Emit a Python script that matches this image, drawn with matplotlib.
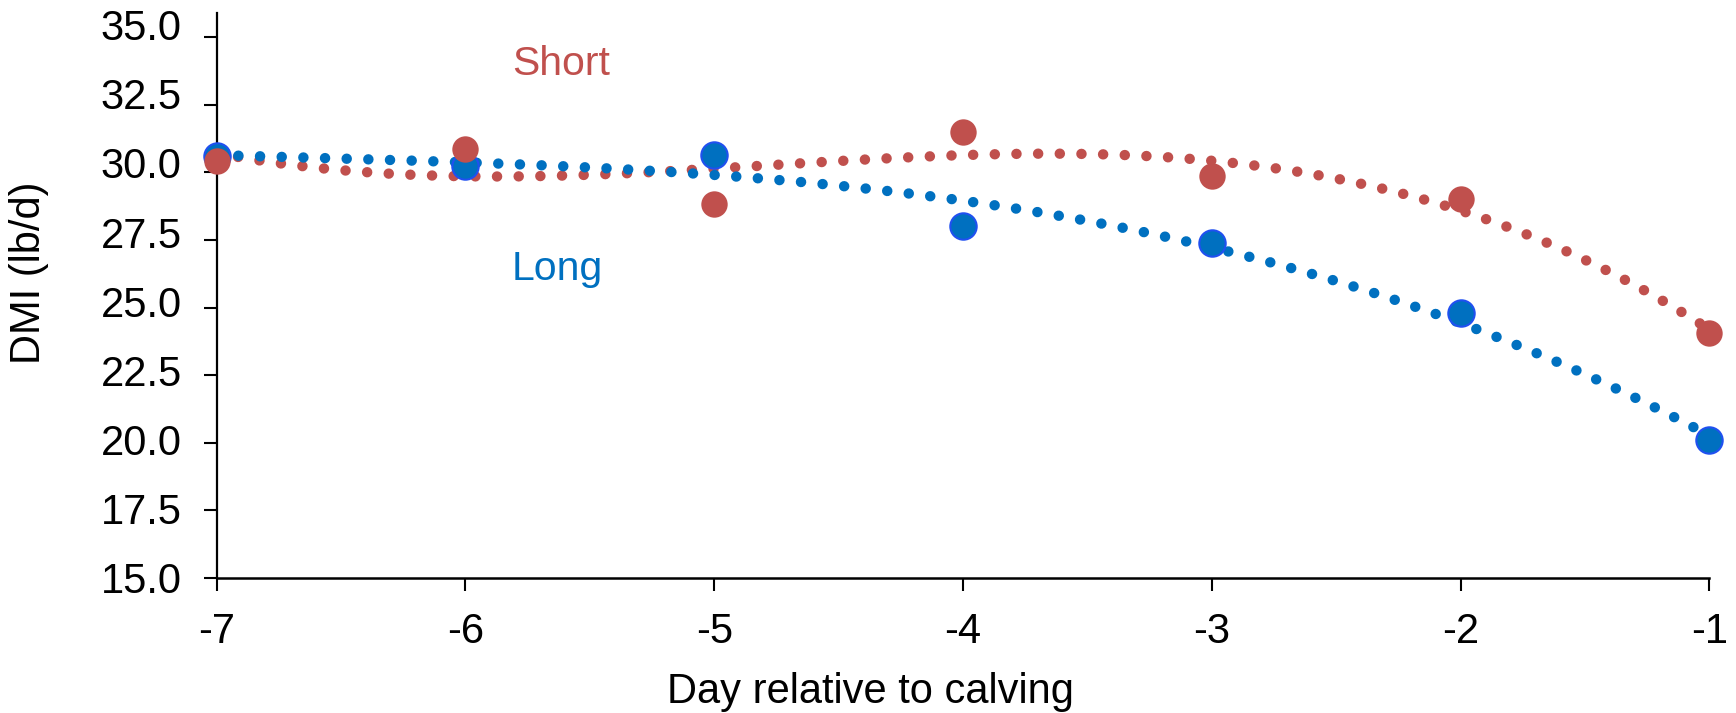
import numpy as np
import matplotlib
matplotlib.use("Agg")
import matplotlib.pyplot as plt

plt.rcParams['font.family'] = ['Liberation Sans', 'DejaVu Sans']

days = [-7, -6, -5, -4, -3, -2, -1]
short_dmi = [30.42, 30.88, 28.83, 31.51, 29.85, 29.03, 24.04]
long_dmi = [30.60, 30.25, 30.66, 28.02, 27.38, 24.78, 20.10]
y_ticks = [15.0, 17.5, 20.0, 22.5, 25.0, 27.5, 30.0, 32.5, 35.0]

red = '#C0504D'
blue = '#0070C0'
FS = 30

fig = plt.figure(figsize=(17.36, 7.13), dpi=100)
rect = [0.12483, 0.18976, 0.8598, 0.7916]
ax = fig.add_axes(rect)

x = np.array(days, dtype=float)
xs = np.linspace(-7, -1, 400)

# third-order polynomial trendlines, round-dotted
for vals, col in [(short_dmi, red), (long_dmi, blue)]:
    coef = np.polyfit(x, np.array(vals), 3)
    ax.plot(xs, np.polyval(coef, xs), color=col, lw=7.5,
            linestyle=(0, (0.01, 2.07)), dash_capstyle='round',
            zorder=2, clip_on=False)

ax.plot(days, long_dmi, 'o', color=blue, markersize=19, mec='#2050F0',
        mew=1.5, zorder=3, clip_on=False)
ax.plot(days, short_dmi, 'o', color=red, markersize=19, mec=red,
        mew=0, zorder=4, clip_on=False)

ax.text(-5.814, 33.60, 'Short', color=red, fontsize=29.5, ha='left', va='baseline')
ax.text(-5.814, 26.02, 'Long', color=blue, fontsize=29.5, ha='left', va='baseline')

ax.set_xlim(-7, -1)
ax.set_ylim(15, 35.89)
ax.set_yticks(y_ticks)
ax.set_xticks(days)
ax.set_xticklabels([str(d) for d in days])

for s in ['top', 'right']:
    ax.spines[s].set_visible(False)
ax.spines['left'].set_linewidth(1.6)
ax.spines['bottom'].set_linewidth(1.8)

ax.tick_params(axis='both', direction='out', length=9.4, width=1.5,
               labelsize=FS, colors='black')
ax.tick_params(axis='y', labelleft=False)
ax.tick_params(axis='x', pad=15.4)

# y tick labels sit on their own frameless axes with a slightly wider scale
lab = fig.add_axes(rect, frameon=False, label='ytick-labels')
lab.set_ylim(15.19, 35.41)
lab.set_xticks([])
lab.set_yticks(y_ticks)
lab.set_yticklabels([f'{v:.1f}' for v in y_ticks])
lab.tick_params(axis='y', length=0, pad=25.2, labelsize=FS)
lab.patch.set_visible(False)

ax.set_xlabel('Day relative to calving', fontsize=FS)
ax.xaxis.set_label_coords(0.4377, -0.1666)
ax.xaxis.label.set(ha='center', va='top')

ax.set_ylabel('DMI (lb/d)', fontsize=FS)
ax.yaxis.set_label_coords(-0.1258, 0.541)
ax.yaxis.label.set(ha='center', va='center')

fig.savefig('out.png', dpi=100)
